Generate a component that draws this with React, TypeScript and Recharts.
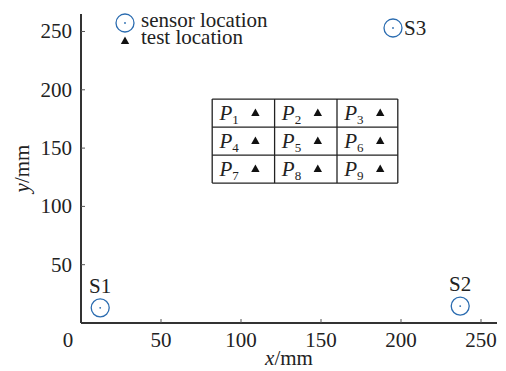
import React from 'react';
import { ScatterChart, Scatter, XAxis, YAxis, ReferenceLine, Legend } from 'recharts';

const FONT = "'Liberation Serif', 'Times New Roman', Times, serif";
const BLUE = '#2b6cb0';
const TXT: React.CSSProperties = { fontFamily: FONT, fontSize: 21 };

const xTicks = [0, 50, 100, 150, 200, 250];
const yTicks = [50, 100, 150, 200, 250];

const sensorNames = ['S1', 'S2', 'S3'];
const sensorX = [12, 237, 195];
const sensorY = [13, 14.5, 253];
const sensorLabelSide = ['top', 'top', 'right'];

const tableColEdges = [82, 121, 160, 198];
const tableRowEdges = [192, 168, 144, 120];
const testColX = [109, 148, 187];
const testRowY = [180, 156, 132];
const testNames = ['1', '2', '3', '4', '5', '6', '7', '8', '9'];

const sensorData = sensorNames.map((n, i) => ({ x: sensorX[i], y: sensorY[i], name: n, side: sensorLabelSide[i] }));
const testData: any[] = [];
const labelData: any[] = [];
testRowY.forEach((ry, r) => {
  testColX.forEach((cx, c) => {
    testData.push({ x: cx, y: ry });
    labelData.push({ x: tableColEdges[c] + 4.5, y: ry, sub: testNames[r * 3 + c] });
  });
});

const XTick = (props: any) => {
  const { x, y, payload } = props;
  const v = payload.value;
  return (
    <g>
      {v !== 0 && <line x1={x} y1={y} x2={x} y2={y - 4} stroke="#555" strokeWidth={1} />}
      <text x={v === 0 ? x - 13 : x} y={y + 24} textAnchor="middle" style={TXT} fill="#222">
        {v}
      </text>
    </g>
  );
};

const YTick = (props: any) => {
  const { x, y, payload } = props;
  return (
    <g>
      <line x1={x} y1={y} x2={x + 4} y2={y} stroke="#555" strokeWidth={1} />
      <text x={x - 9} y={y + 7} textAnchor="end" style={TXT} fill="#222">
        {payload.value}
      </text>
    </g>
  );
};

const SensorShape = (props: any) => {
  const { cx, cy, payload } = props;
  const right = payload.side === 'right';
  return (
    <g>
      <circle cx={cx} cy={cy} r={9} fill="none" stroke={BLUE} strokeWidth={1.3} />
      <circle cx={cx} cy={cy} r={0.9} fill={BLUE} />
      <text
        x={right ? cx + 11 : cx}
        y={right ? cy + 7 : cy - 15}
        textAnchor={right ? 'start' : 'middle'}
        style={TXT}
        fill="#222"
      >
        {payload.name}
      </text>
    </g>
  );
};

const TriShape = (props: any) => {
  const { cx, cy } = props;
  return <path d={`M${cx},${cy - 4.5}L${cx + 4.2},${cy + 3}L${cx - 4.2},${cy + 3}Z`} fill="#111" />;
};

const PLabelShape = (props: any) => {
  const { cx, cy, payload } = props;
  return (
    <text x={cx} y={cy + 7} style={TXT} fill="#222">
      <tspan fontStyle="italic">P</tspan>
      <tspan style={{ fontSize: 13 }} dy={4}>{payload.sub}</tspan>
    </text>
  );
};

const renderLegend = () => (
  <svg width={300} height={50} style={{ display: 'block' }}>
    <circle cx={125} cy={23} r={9} fill="none" stroke={BLUE} strokeWidth={1.3} />
    <circle cx={125} cy={23} r={0.9} fill={BLUE} />
    <text x={141} y={27} style={TXT} fill="#222">sensor location</text>
    <path d="M125,36.5L129.2,44L120.8,44Z" fill="#111" />
    <text x={141} y={44} style={TXT} fill="#222">test location</text>
  </svg>
);

const XLabel = (props: any) => {
  const { viewBox } = props;
  const cx = viewBox.x + viewBox.width / 2;
  return (
    <text x={cx} y={viewBox.y + viewBox.height - 6} textAnchor="middle" style={TXT} fill="#222">
      <tspan fontStyle="italic">x</tspan>
      <tspan>/mm</tspan>
    </text>
  );
};

const YLabel = (props: any) => {
  const { viewBox } = props;
  const cy = viewBox.y + viewBox.height / 2;
  const x = 29;
  return (
    <text x={x} y={cy} transform={`rotate(-90 ${x} ${cy})`} textAnchor="middle" style={TXT} fill="#222">
      <tspan fontStyle="italic">y</tspan>
      <tspan>/mm</tspan>
    </text>
  );
};

export default function App() {
  const top = tableRowEdges[0];
  const bottom = tableRowEdges[tableRowEdges.length - 1];
  const left = tableColEdges[0];
  const right = tableColEdges[tableColEdges.length - 1];
  return (
    <div style={{ position: 'absolute', left: 0, top: 0, width: 506, height: 371, background: '#fff' }}>
      <ScatterChart width={506} height={371} margin={{ top: 14, right: 9, bottom: 0, left: 0 }}>
        <XAxis
          type="number"
          dataKey="x"
          domain={[0, 260]}
          ticks={xTicks}
          allowDataOverflow
          height={48}
          tickSize={0}
          tickMargin={0}
          tick={XTick}
          axisLine={{ stroke: '#333', strokeWidth: 2 }}
          tickLine={false}
          label={{ content: XLabel }}
        />
        <YAxis
          type="number"
          dataKey="y"
          domain={[0, 265]}
          ticks={yTicks}
          allowDataOverflow
          width={81}
          tickSize={0}
          tickMargin={0}
          tick={YTick}
          axisLine={{ stroke: '#333', strokeWidth: 2 }}
          tickLine={false}
          label={{ content: YLabel }}
        />
        {tableColEdges.map((e, i) => (
          <ReferenceLine
            key={'c' + i}
            segment={[{ x: e, y: top }, { x: e, y: bottom }]}
            stroke="#222"
            strokeWidth={1.3}
            ifOverflow="visible"
          />
        ))}
        {tableRowEdges.map((e, i) => (
          <ReferenceLine
            key={'r' + i}
            segment={[{ x: left, y: e }, { x: right, y: e }]}
            stroke="#222"
            strokeWidth={1.3}
            ifOverflow="visible"
          />
        ))}
        <Scatter data={labelData} shape={PLabelShape} isAnimationActive={false} />
        <Scatter data={testData} shape={TriShape} isAnimationActive={false} />
        <Scatter data={sensorData} shape={SensorShape} isAnimationActive={false} />
        <Legend
          content={renderLegend}
          layout="horizontal"
          verticalAlign="middle"
          align="center"
          wrapperStyle={{ position: 'absolute', top: 0, left: 0, width: 300, height: 50 }}
        />
      </ScatterChart>
    </div>
  );
}
